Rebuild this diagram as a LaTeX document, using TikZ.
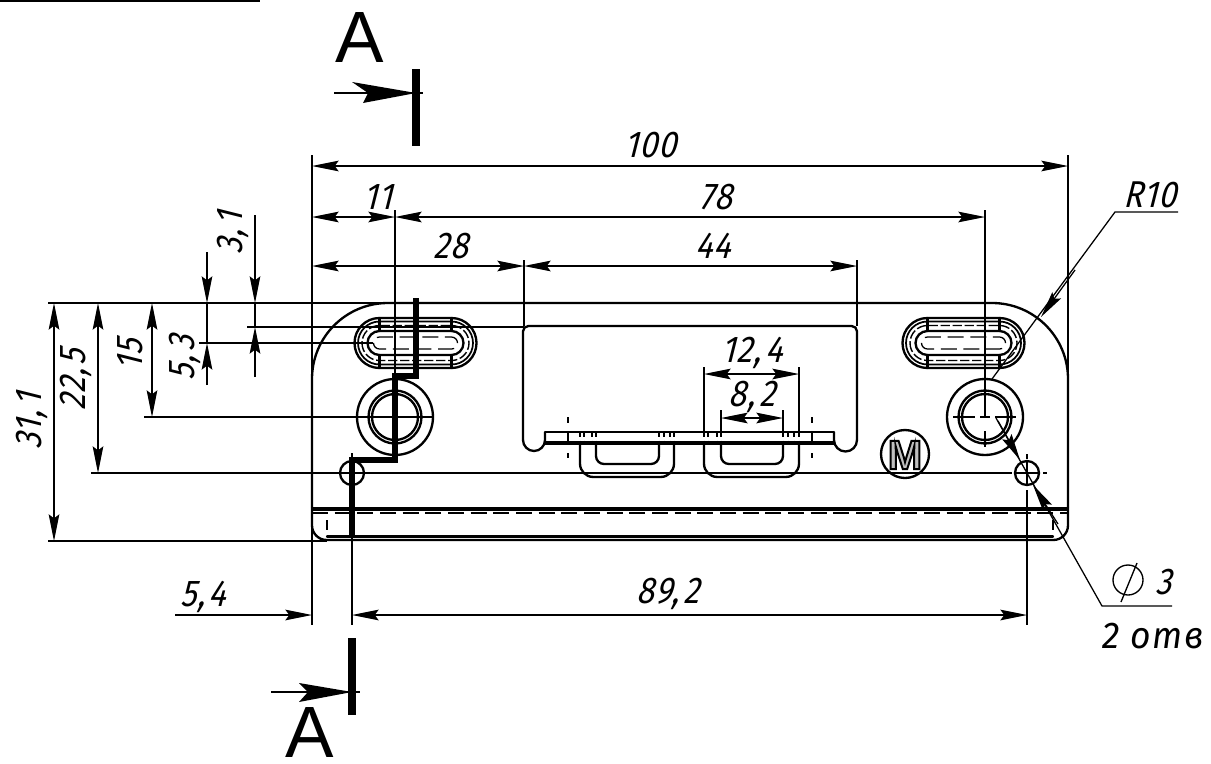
\documentclass[tikz,border=0pt]{standalone}
\usepackage{fontspec}
\usetikzlibrary{arrows.meta}
\newfontfamily\dimf[FakeStretch=.86,FakeSlant=.25,LetterSpace=3]{Fira Sans}
\newfontfamily\itf[FakeStretch=.95,LetterSpace=5]{Fira Sans}
\newfontfamily\secf{Liberation Sans}
\newfontfamily\mf{Liberation Sans Bold}
\newcommand{\cm}{,\kern3pt }
\tikzset{
  main/.style={line width=1.75pt,line cap=round},
  heavy/.style={line width=2.3pt},
  thinl/.style={line width=.95pt},
  ring/.style={line width=1.3pt},
  ringd/.style={line width=1.05pt,dash pattern=on 7pt off 2pt},
  hid/.style={line width=.95pt,dash pattern=on 12pt off 5pt},
  hids/.style={line width=.9pt,dash pattern=on 3.5pt off 3pt},
  sect/.style={line width=5pt,line join=miter},
  secbar/.style={line width=6pt},
  dimtip/.tip={Stealth[length=20pt,width=8pt,inset=3pt]},
  dim/.style={thinl,dimtip-dimtip},
  dimr/.style={thinl,-dimtip},
  lbl/.style={inner sep=0pt,font=\dimf\fontsize{28}{30}\selectfont},
  seclbl/.style={inner sep=0pt,font=\secf\fontsize{54.5}{56}\selectfont},
}
\newcommand{\slotpart}[3]{% centre x, radius, style
  \draw[#3,rounded corners={#2*.75pt}] ({#1-36-#2},{343-#2}) rectangle ({#1+36+#2},{343+#2});}
\newcommand{\slotall}[1]{%
  \slotpart{#1}{25}{main}
  \slotpart{#1}{21.5}{ring}
  \slotpart{#1}{17.5}{ringd}
  \slotpart{#1}{12}{main}
  \slotpart{#1}{6}{hid}
  \draw[main] ({#1-36},318) -- ({#1-36},331) ({#1-36},355) -- ({#1-36},368);
  \draw[main] ({#1+36},318) -- ({#1+36},331) ({#1+36},355) -- ({#1+36},368);}
\begin{document}
\begin{tikzpicture}[x=.75pt,y=-.75pt]
\useasboundingbox (0,0) rectangle (1211,764);
\fill[white] (0,0) rectangle (1211,764);
% top bar
\draw[line width=1.5pt] (0,1) -- (260,1);
% extension lines
\draw[thinl]
  (312,155) -- (312,625)
  (1068,155) -- (1068,380)
  (395,210) -- (395,460)
  (985,210) -- (985,417)
  (524,260) -- (524,326)
  (857,260) -- (857,326)
  (352,453) -- (352,625)
  (1027,490) -- (1027,625)
  (48,303) -- (400,303)
  (48,541) -- (327,541)
  (91,473) -- (1012,473)
  (144,417) -- (395,417)
  (199,343) -- (373,343)
  (247,327) -- (524,327)
  (704,367) -- (704,432)
  (799,367) -- (799,432)
  (721,410) -- (721,432)
  (783,410) -- (783,432);
% body
\draw[main,rounded corners=57pt] (312,507) -- (312,303) -- (1068,303) -- (1068,507);
\draw[main,rounded corners=11pt] (312,507) -- (312,540) -- (1068,540) -- (1068,507);
\draw[heavy] (312,509) -- (1068,509);
\draw[hid] (312,513) -- (1068,513);
\draw[main] (327,536.5) -- (1053,536.5);
\draw[thinl] (327,520) -- (327,530) (1053,520) -- (1053,530);
% slots
\slotall{415.5}
\slotall{963.5}
% bosses
\foreach \cx in {395,985}{
  \draw[main] (\cx,417) circle[radius=38];
  \draw[main] (\cx,417) circle[radius=26.5];
  \draw[main] (\cx,417) circle[radius=23];
}
\draw[thinl] (395,417) -- (432,417);
\draw[thinl] (953,417) -- (975,417) (980,417) -- (990,417) (995,417) -- (1016,417)
  (985,431) -- (985,447);
% small holes
\foreach \cx in {352,1027}{\draw[main] (\cx,473) circle[radius=12];}
\draw[thinl] (1015,473) -- (1040,473) (1043,473) -- (1047,473)
  (1027,454) -- (1027,459) (1027,462) -- (1027,485);
% M mark
\draw[main] (905,454) circle[radius=24];
\node[inner sep=0pt,font=\mf\fontsize{31}{33}\selectfont] (markM) at (905,455)
  {\special{pdf:code q 2 Tr 1.5 w 0.75 g 0 G}M\special{pdf:code Q}};
% window
\draw[main,rounded corners=4pt] (523,440) -- (523,326) -- (857,326) -- (857,440);
\draw[main] (545,432) -- (545,440) arc (0:180:11);
\draw[main] (834,432) -- (834,440) arc (180:0:11.5);
\draw[line width=1.2pt] (545,432) -- (834,432);
\draw[heavy] (545,443) -- (834,443);
\foreach \x in {568,812}{
  \draw[thinl] (\x,417) -- (\x,423) (\x,453) -- (\x,458);
  \draw[main] (\x,432) -- (\x,443);
}
% tabs
\foreach \a/\b/\c/\d in {580/674/596/659,704/799/721/783}{
  \draw[main,rounded corners=10pt] (\a,443) -- (\a,477) -- (\b,477) -- (\b,443);
  \draw[main,rounded corners=6pt] (\c,443) -- (\c,464) -- (\d,464) -- (\d,443);
}
\foreach \x in {580,584,592,596,659,664,670,674,704,708,717,721,783,788,794,799}{
  \draw[hids] (\x,432) -- (\x,443);
}
% dimensions horizontal
\draw[dim] (312,166) -- (1068,166);
\draw[dim] (312,217) -- (395,217);
\draw[dim] (395,217) -- (985,217);
\draw[dim] (312,266) -- (524,266);
\draw[dim] (524,266) -- (857,266);
\draw[dim] (704,374) -- (799,374);
\draw[dim] (721,418) -- (783,418);
\draw[dim] (352,615) -- (1027,615);
\draw[dimr] (175,615) -- (312,615);
% dimensions vertical
\draw[dim] (54,303) -- (54,541);
\draw[dim] (98,303) -- (98,473);
\draw[dim] (152,303) -- (152,417);
\draw[dimr] (207,252) -- (207,303);
\draw[dimr] (207,385) -- (207,343);
\draw[thinl] (207,303) -- (207,343);
\draw[dimr] (255,215) -- (255,303);
\draw[dimr] (255,377) -- (255,327);
\draw[thinl] (255,303) -- (255,327);
% leaders
\draw[thinl] (992,379) -- (1115,212) -- (1178,212);
\draw[dimr] (1075,270) -- (1041,317);
\draw[thinl] (996,418) -- (1102,606) -- (1172,606);
\draw[dimr] (998,421) -- (1020,460);
\draw[dimr] (1058,524) -- (1033,485);
% section line
\draw[sect] (416,298) -- (416,376) -- (395,376) -- (395,460) -- (352,460) -- (352,537);
% section marks
\draw[secbar] (416,69) -- (416,146);
\draw[secbar] (352,638) -- (352,715);
\draw[thinl] (334,93) -- (423,93);
\fill (352,82) -- (416,93) -- (363,103) -- (368,93) -- cycle;
\draw[thinl] (271,692) -- (360,692);
\fill (299,683) -- (352,692) -- (299,702) -- (308,692) -- cycle;
\node[seclbl] (secA1) at (359.5,38) {A};
\node[seclbl] (secA2) at (309.5,732.5) {A};
% diameter sign
\draw[line width=1pt] (1128,580) circle[radius=15] (1121,602) -- (1137,563);
% labels
\node[lbl] (d100) at (650,145) {100};
\node[lbl] (d11) at (378,197) {11};
\node[lbl] (d78) at (716,197) {78};
\node[lbl] (d28) at (451,246) {28};
\node[lbl] (d44) at (713,246) {44};
\node[lbl] (d124) at (752,353) {12\cm4};
\node[lbl] (d82) at (752,397) {8\cm2};
\node[lbl] (d54) at (203,597) {5\cm4};
\node[lbl] (d892) at (668,594) {89\cm2};
\node[lbl] (dr10) at (1150,195) {R10};
\node[lbl,rotate=90] (d311) at (32,421) {31\cm1};
\node[lbl,rotate=90] (d225) at (76,380) {22\cm5};
\node[lbl,rotate=90] (d15) at (130,355) {15};
\node[lbl,rotate=90] (d53) at (185,358) {5\cm3};
\node[lbl,rotate=90] (d31) at (233,233) {3\cm1};
\node[lbl] (ddia) at (1163,582) {3};
\node[inner sep=0pt,font=\itf\itshape\fontsize{28}{30}\selectfont] (dotv) at (1153,636) {2\kern8pt отв};
\end{tikzpicture}
\end{document}
